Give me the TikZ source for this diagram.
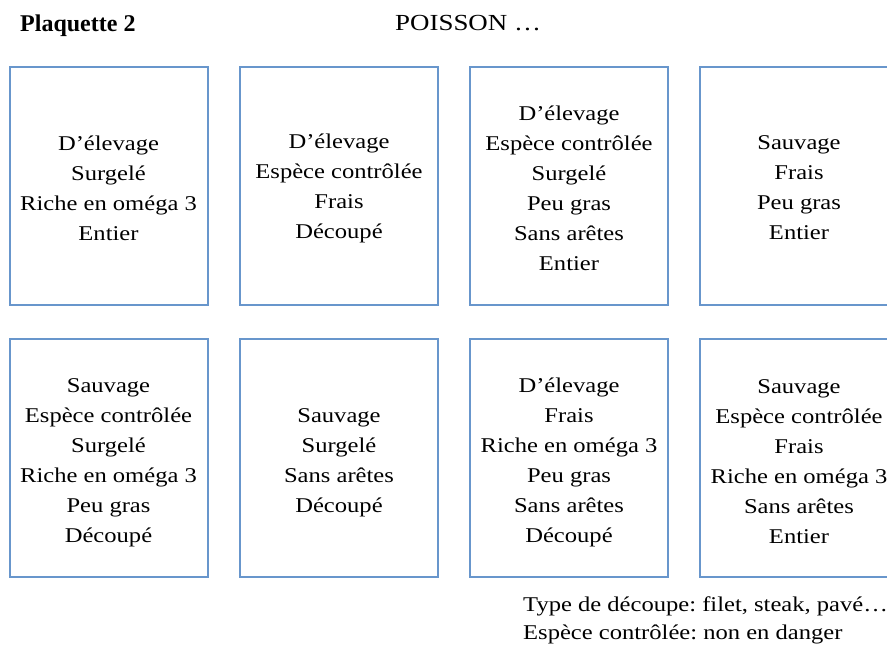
\documentclass[tikz,border=0pt]{standalone}
\usepackage{fontspec}
\setmainfont{Liberation Serif}
\newfontfamily\wideserif[FakeStretch=1.17]{Liberation Serif}
\frenchspacing
\usetikzlibrary{positioning}
\definecolor{cardblue}{RGB}{104,150,204}

\begin{document}
\begin{tikzpicture}[x=1pt,y=-1pt,
		card/.style={draw=cardblue, line width=2pt, minimum width=198pt, minimum height=238pt, inner sep=0pt},
		cardtext/.style={align=center, inner sep=0pt, yshift=-2.5pt, font=\wideserif\fontsize{21}{30}\selectfont},
		head/.style={anchor=base west, inner sep=0pt}]
		%%%%% START %%%%%
		\useasboundingbox (0,0) rectangle (887,646);
		\clip (0,0) rectangle (887,646);
		
		\node[head, font=\fontsize{24}{24}\bfseries] (plaq) at (20,31) {Plaquette 2};
		\node[head, font=\wideserif\fontsize{23}{23}\selectfont] (titre) at (395,30) {POISSON \dots};
		
		% first row
		\node[card] (c11) at (108.5,185.5) {};
		\node[card] (c12) at (339,185.5) {};
		\node[card] (c13) at (569,185.5) {};
		\node[card] (c14) at (799,185.5) {};
		\node[cardtext] (t11) at (c11) {D’élevage\\Surgelé\\Riche en oméga 3\\Entier};
		\node[cardtext] (t12) at (c12) {D’élevage\\Espèce contrôlée\\Frais\\Découpé};
		\node[cardtext] (t13) at (c13) {D’élevage\\Espèce contrôlée\\Surgelé\\Peu gras\\Sans arêtes\\Entier};
		\node[cardtext] (t14) at (c14) {Sauvage\\Frais\\Peu gras\\Entier};
		
		% second row
		\node[card] (c21) at (108.5,458) {};
		\node[card] (c22) at (339,458) {};
		\node[card] (c23) at (569,458) {};
		\node[card] (c24) at (799,458) {};
		\node[cardtext, yshift=-2pt] (t21) at (c21) {Sauvage\\Espèce contrôlée\\Surgelé\\Riche en oméga 3\\Peu gras\\Découpé};
		\node[cardtext, yshift=-2pt] (t22) at (c22) {Sauvage\\Surgelé\\Sans arêtes\\Découpé};
		\node[cardtext, yshift=-2pt] (t23) at (c23) {D’élevage\\Frais\\Riche en oméga 3\\Peu gras\\Sans arêtes\\Découpé};
		\node[cardtext, yshift=-1pt] (t24) at (c24) {Sauvage\\Espèce contrôlée\\Frais\\Riche en oméga 3\\Sans arêtes\\Entier};
		
		\node[anchor=base west, align=left, inner sep=0pt, font=\wideserif\fontsize{21}{28}\selectfont] (legende) at (523,639)
			{Type de découpe: filet, steak, pavé\dots\\Espèce contrôlée: non en danger};
		%%%%% END %%%%%
	\end{tikzpicture}
\end{document}
